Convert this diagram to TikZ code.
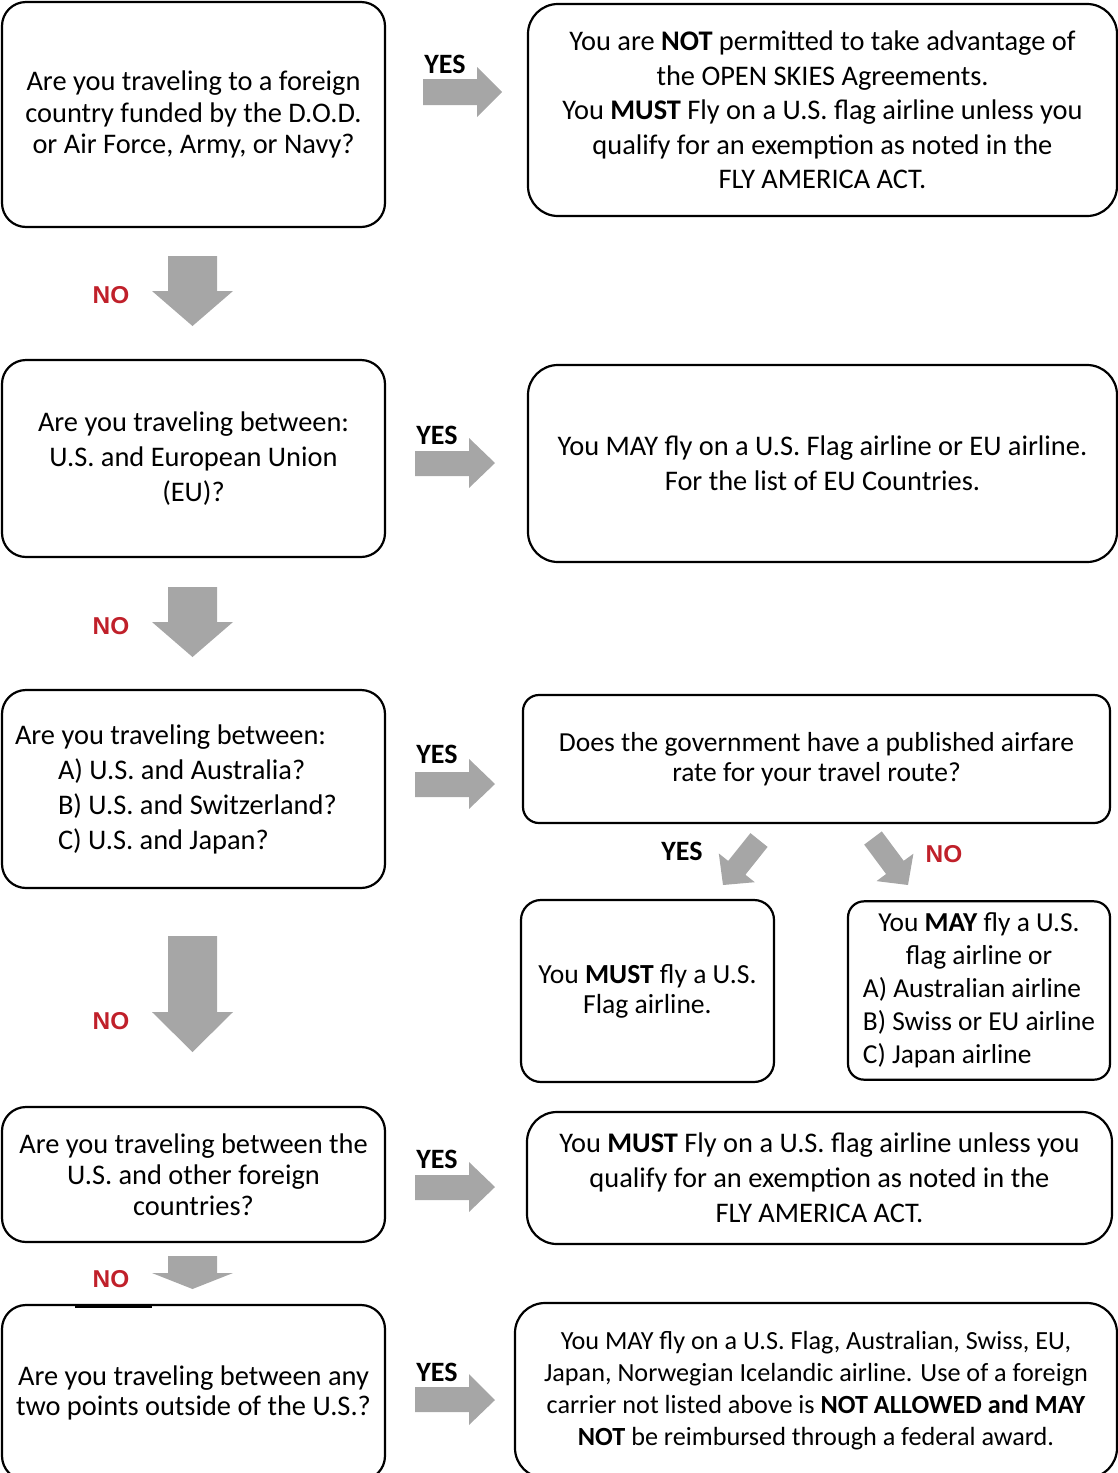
\documentclass[tikz,border=0pt]{standalone}
\usepackage{fontspec}
\setmainfont{Carlito}
\newfontfamily\arialfont{Liberation Sans}
\usepackage{tikz}
\usetikzlibrary{positioning}
\definecolor{nored}{RGB}{192,32,42}
\definecolor{arrowgray}{RGB}{166,166,166}

\begin{document}
\begin{tikzpicture}[
        x=0.5pt, y=-0.5pt,
        question/.style={
             rectangle
            , draw=black
            , line width=1.1pt
            , align=center
            , rounded corners=12pt
            , minimum width=191.5pt
            , font=\fontsize{14.2}{17.5}\selectfont
        },
        answer/.style={
             question
            , rounded corners=15pt
        },
        yeslabel/.style={font=\fontsize{14}{16}\selectfont\bfseries, inner sep=0pt},
        nolabel/.style={font=\arialfont\fontsize{12.2}{14}\selectfont\bfseries, text=nored, inner sep=0pt},
        arrowfill/.style={fill=arrowgray}
        ]
        \useasboundingbox (0,0) rectangle (1118,1473);

        % questions on the left
        \node[question, minimum height=112.5pt, font=\fontsize{14.2}{15.75}\selectfont] (dod) at (193.5,114.5)
            {Are you traveling to a foreign\\country funded by the D.O.D.\\or Air Force, Army, or Navy?};
        \node[question, minimum height=98.5pt] (eu) at (193.5,458.5)
            {Are you traveling between:\\U.S. and European Union\\(EU)?};
        \node[question, minimum height=99pt, align=flush left, text width=178.5pt] (ausjp) at (193.5,789)
            {Are you traveling between:\\\hspace*{21.5pt}A) U.S. and Australia?\\\hspace*{21.5pt}B) U.S. and Switzerland?\\\hspace*{21.5pt}C) U.S. and Japan?};
        \node[question, minimum height=67.5pt, font=\fontsize{14.2}{15.5}\selectfont] (other) at (193.5,1174.5)
            {Are you traveling between the\\U.S. and other foreign\\countries?};
        \node[question, minimum height=87.5pt, font=\fontsize{14.2}{15}\selectfont] (outside) at (193.5,1392.5)
            {Are you traveling between any\\two points outside of the U.S.?};
        \draw[line width=2pt] (75,1306) -- (152,1306);

        % answers on the right
        \node[answer, minimum width=294.5pt, minimum height=106pt, font=\fontsize{14.2}{17.25}\selectfont] (notopen) at (822.5,110)
            {You are \textbf{NOT} permitted to take advantage of\\the OPEN SKIES Agreements.\\You \textbf{MUST} Fly on a U.S. flag airline unless you\\qualify for an exemption as noted in the\\FLY AMERICA ACT.};
        \node[answer, minimum width=294.5pt, minimum height=98.5pt] (euok) at (822.5,463.5)
            {You MAY fly on a U.S. Flag airline or EU airline.\\For the list of EU Countries.};
        \node[answer, rounded corners=8pt, minimum width=293.5pt, minimum height=64pt, font=\fontsize{13.75}{15}\selectfont] (fare) at (816.5,759)
            {Does the government have a published airfare\\rate for your travel route?};
        \node[answer, rounded corners=10pt, minimum width=126.5pt, minimum height=91pt, font=\fontsize{13.8}{15}\selectfont] (mustflag) at (647.5,991)
            {You \textbf{MUST} fly a U.S.\\Flag airline.};
        \node[answer, rounded corners=8pt, minimum width=131pt, minimum height=87.5pt, font=\fontsize{13.7}{16.5}\selectfont] (mayflag) at (979,990.5)
            {\begin{tabular}{@{}l@{}}\multicolumn{1}{@{}c@{}}{You \textbf{MAY} fly a U.S.}\\\multicolumn{1}{@{}c@{}}{flag airline or}\\A) Australian airline\\B) Swiss or EU airline\\C) Japan airline\end{tabular}};
        \node[answer, minimum width=292.5pt, minimum height=66pt] (flyamerica) at (819.5,1178)
            {You \textbf{MUST} Fly on a U.S. flag airline unless you\\qualify for an exemption as noted in the\\FLY AMERICA ACT.};
        \node[answer, minimum width=301pt, minimum height=87.5pt, font=\fontsize{13.1}{16}\selectfont] (notallowed) at (816,1390.5)
            {You MAY fly on a U.S. Flag, Australian, Swiss, EU,\\Japan, Norwegian Icelandic airline. Use of a foreign\\carrier not listed above is \textbf{NOT ALLOWED and MAY}\\\textbf{NOT} be reimbursed through a federal award.};

        % yes arrows
        \fill[arrowfill] (423,79) -- (477,79) -- (477,67) -- (502,92) -- (477,117) -- (477,105) -- (423,105) -- cycle;
        \fill[arrowfill] (415,451) -- (469,451) -- (469,438) -- (495,463) -- (469,488) -- (469,476) -- (415,476) -- cycle;
        \fill[arrowfill] (415,772) -- (469,772) -- (469,759) -- (495,784) -- (469,809) -- (469,797) -- (415,797) -- cycle;
        \fill[arrowfill] (415,1175) -- (469,1175) -- (469,1162) -- (495,1187) -- (469,1212) -- (469,1200) -- (415,1200) -- cycle;
        \fill[arrowfill] (415,1387) -- (469,1387) -- (469,1374) -- (495,1400) -- (469,1425) -- (469,1412) -- (415,1412) -- cycle;

        % no arrows
        \fill[arrowfill] (168,256) -- (217,256) -- (217,291) -- (233,291) -- (192.5,326) -- (152,291) -- (168,291) -- cycle;
        \fill[arrowfill] (168,587) -- (217,587) -- (217,622) -- (233,622) -- (192.5,657) -- (152,622) -- (168,622) -- cycle;
        \fill[arrowfill] (168,936) -- (217,936) -- (217,1012) -- (233,1012) -- (192.5,1052) -- (152,1012) -- (168,1012) -- cycle;
        \fill[arrowfill] (168,1256) -- (217,1256) -- (217,1273) -- (233,1273) -- (192.5,1289) -- (152,1273) -- (168,1273) -- cycle;

        % fare split
        \fill[arrowfill] (767.6,846.9) -- (745.4,874.7) -- (754.8,882.2) -- (723,885) -- (718.8,853.4) -- (728.2,860.9) -- (750.4,833.1) -- cycle;
        \fill[arrowfill] (881.8,831.4) -- (903.7,860.8) -- (913.4,853.7) -- (908,885) -- (876.5,881.1) -- (886.1,874.0) -- (864.2,844.6) -- cycle;

        % labels
        \node[yeslabel] (yes1) at (445,64) {YES};
        \node[yeslabel] (yes2) at (437,435) {YES};
        \node[yeslabel] (yes3) at (437,754) {YES};
        \node[yeslabel] (yes4) at (682,851) {YES};
        \node[yeslabel] (yes5) at (437,1159) {YES};
        \node[yeslabel] (yes6) at (437,1372) {YES};
        \node[nolabel] (no1) at (111,295) {NO};
        \node[nolabel] (no2) at (111,626) {NO};
        \node[nolabel] (no3) at (111,1021) {NO};
        \node[nolabel] (no4) at (944,854) {NO};
        \node[nolabel] (no5) at (111,1279) {NO};
    \end{tikzpicture}
\end{document}
